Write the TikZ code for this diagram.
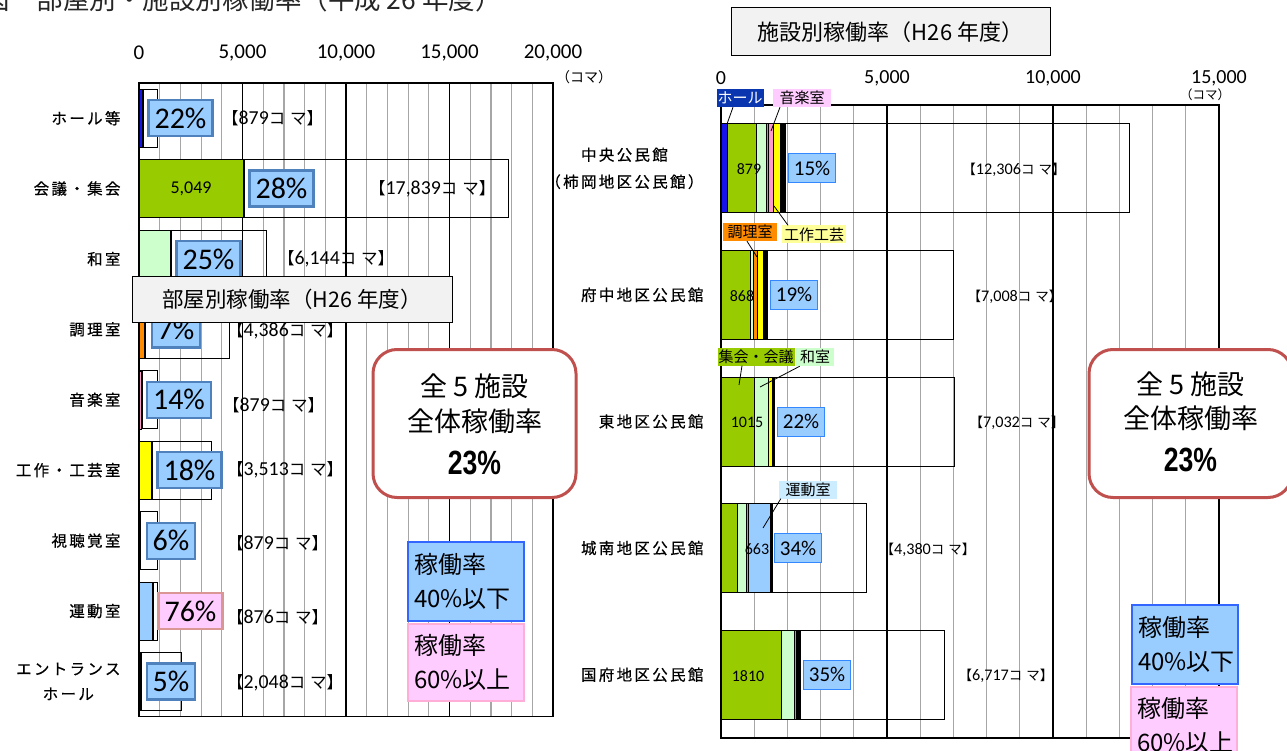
\documentclass[tikz,border=0pt]{standalone}
\usepackage{fontspec}
\setmainfont{Noto Sans CJK JP}
\newfontfamily\numfont{Carlito}
\newfontfamily\labfont[LetterSpace=15, FakeBold=0.5]{Noto Sans CJK JP}
\newfontfamily\boldnum{Liberation Sans}

\definecolor{hallblue}{RGB}{20,20,235}
\definecolor{halltag}{RGB}{10,55,175}
\definecolor{kaigi}{RGB}{153,204,0}
\definecolor{washitsu}{RGB}{204,255,204}
\definecolor{chouri}{RGB}{255,140,0}
\definecolor{ongaku}{RGB}{255,153,204}
\definecolor{ongakutag}{RGB}{255,204,255}
\definecolor{kousaku}{RGB}{255,255,0}
\definecolor{kousakutag}{RGB}{255,255,153}
\definecolor{undou}{RGB}{153,204,255}
\definecolor{undoutag}{RGB}{204,236,255}
\definecolor{pcfill}{RGB}{153,204,255}
\definecolor{pcedge}{RGB}{79,129,189}
\definecolor{pcedgeR}{RGB}{51,136,255}
\definecolor{pinkfill}{RGB}{255,204,255}
\definecolor{pinkedge}{RGB}{217,150,148}
\definecolor{titlegray}{RGB}{242,242,242}
\definecolor{roundred}{RGB}{192,80,77}
\definecolor{legedge}{RGB}{51,102,255}
\definecolor{legpinkedge}{RGB}{255,175,215}
\definecolor{gridgray}{RGB}{166,166,166}

\newcommand\koma[1]{【{\numfont\scalebox{1.2}{#1}}コ\hspace{0.3em}マ】}

\tikzset{
  gridline/.style={draw=gridgray, line width=1.2pt},
  major/.style={draw=black, line width=1.2pt},
  plotframe/.style={draw=black, line width=1.4pt},
  totalbox/.style={draw=black, line width=0.9pt},
  segbar/.style={draw=black, line width=0.6pt},
  tickL/.style={font={\numfont\fontsize{21}{21}\selectfont}},
  tickR/.style={font={\numfont\fontsize{20}{20}\selectfont}},
  catL/.style={anchor=east, align=center, font={\labfont\fontsize{15.5}{25}\selectfont}},
  facR/.style={anchor=east, align=center, font={\labfont\fontsize{15.5}{27}\selectfont}},
  pcbox/.style={draw=pcedge, fill=pcfill, line width=2.2pt, inner xsep=6pt, inner ysep=0pt,
    minimum height=36pt, font={\numfont\fontsize{30}{30}\selectfont}},
  pcpink/.style={pcbox, draw=pinkedge, fill=pinkfill},
  pcboxR/.style={draw=pcedgeR, fill=pcfill, line width=1pt, inner xsep=5pt, inner ysep=0pt,
    minimum height=29pt, font={\numfont\fontsize{21}{21}\selectfont}},
  komaL/.style={anchor=west, inner sep=0pt, font=\fontsize{16.5}{16.5}\selectfont},
  komaR/.style={inner sep=0pt, font=\fontsize{13.5}{13.5}\selectfont},
  numR/.style={inner sep=0pt, font={\numfont\fontsize{16}{16}\selectfont}},
  tag/.style={inner sep=1pt, minimum height=18pt, font=\fontsize{15}{15}\selectfont},
  leader/.style={draw=black, line width=0.8pt},
  titlebox/.style={draw=black, fill=titlegray, line width=1pt},
  roundbox/.style={draw=roundred, fill=white, line width=3pt, rounded corners=24pt,
    minimum width=203pt, minimum height=148pt},
  roundtxt/.style={inner sep=0pt, font=\fontsize{27}{27}\selectfont},
  roundpct/.style={inner sep=0pt, font={\boldnum\bfseries\fontsize{28}{28}\selectfont}},
  legB/.style={draw=legedge, fill=pcfill, line width=1.2pt, inner xsep=6pt, align=left,
    font=\fontsize{24}{34}\selectfont},
  legP/.style={legB, draw=legpinkedge, fill=pinkfill}
}

\begin{document}
\begin{tikzpicture}[x=1pt,y=-1pt]
\useasboundingbox (0,0) rectangle (1287,751);
\clip (0,0) rectangle (1287,751);

% caption, cut off at the top edge
\node[anchor=base west, font=\fontsize{26.5}{26.5}\selectfont, text=black!85] (cap) at (-20,9.5) {図　部屋別・施設別稼働率（平成 26 年度）};

%% ---- left chart: by room type (values in 100 koma) ----
\foreach \k in {1,...,19}
  \draw[gridline] ({139+20.7*\k},83) -- ({139+20.7*\k},716.6);
\foreach \k in {5,10,15}
  \draw[major] ({139+20.7*\k},83) -- ({139+20.7*\k},716.6);
\draw[plotframe] (139,83) rectangle (553,716.6);

\foreach \v/\t in {0/0,5/{5,000},10/{10,000},15/{15,000},20/{20,000}}
  \node[tickL] (tl\v) at ({139+20.7*\v},53) {\t};
\node[font=\fontsize{14}{14}\selectfont] (unitL) at (584,77) {（コマ）};

\foreach \col/\used/\tot/\px/\pst/\pct/\kx/\kdy/\kv [count=\i] in {
  hallblue/1.93/8.79/180.5/pcbox/22/222/0/879,
  kaigi/50.49/178.39/281.5/pcbox/28/369/0/{17,839},
  washitsu/15.36/61.44/208.5/pcbox/25/278/0/{6,144},
  chouri/3.07/43.86/176/pcbox/7/227/1/{4,386},
  ongaku/1.23/8.79/179/pcbox/14/223/5/879,
  kousaku/6.32/35.13/189.5/pcbox/18/227/0/{3,513},
  black/0.53/8.79/171/pcbox/6/227/3/879,
  undou/6.66/8.76/190.5/pcpink/76/227/6/876,
  black/1.02/20.48/171/pcbox/5/227/1/{2,048}}
{
  \pgfmathsetmacro\yc{83+70.4*(\i-0.5)}
  \draw[totalbox] (139,\yc-29) rectangle ({139+2.07*\tot},\yc+29);
  \draw[segbar, fill=\col] (139,\yc-29) rectangle ({139+2.07*\used},\yc+29);
  \draw[line width=2pt] ({139+2.07*\used},\yc-29) -- ++(0,58);
  \node[\pst] (pct\i) at (\px,\yc) {\pct\%};
  \node[komaL] (koma\i) at (\kx,\yc+\kdy) {\koma{\kv}};
}
\node[inner sep=0pt, font={\numfont\fontsize{18}{18}\selectfont}] (v2) at (191,189) {5,049};

\foreach \t [count=\i] in {ホール等,会議・集会,和室,調理室,音楽室,工作・工芸室,視聴覚室,運動室,{エントランス\\ホール}}
  \node[catL] (cat\i) at (124,{83+70.4*(\i-0.5)}) {\t};

\node[titlebox, minimum width=320pt, minimum height=45pt, font=\fontsize{21.5}{21.5}\selectfont] (titleL) at (292,299.5) {部屋別稼働率（H26 年度）};

\node[roundbox] (allL) at (474.5,423.5) {};
\node[roundtxt] (allL1) at (474.5,386) {全 5 施設};
\node[roundtxt] (allL2) at (474.5,421) {全体稼働率};
\node[roundpct] (allL3) at (474.5,463) {\scalebox{0.95}[1.2]{23\%}};

\node[legB, text width=104pt, minimum height=79pt] (legL1) at (466,581.5) {稼働率\\40\%以下};
\node[legP, text width=104pt, minimum height=77pt] (legL2) at (466,662.5) {稼働率\\60\%以上};

%% ---- right chart: by facility ----
\foreach \k in {1,...,14}
  \draw[gridline] ({721+33.2*\k},105) -- ({721+33.2*\k},738);
\foreach \k in {5,10}
  \draw[major] ({721+33.2*\k},105) -- ({721+33.2*\k},738);
\draw[plotframe] (721,105) rectangle (1219,738);

\foreach \v/\t in {0/0,5/{5,000},10/{10,000},15/{15,000}}
  \node[tickR] (tr\v) at ({721+33.2*\v},78) {\t};
\node[font=\fontsize{12.5}{12.5}\selectfont] (unitR) at (1205,95) {（コマ）};

\foreach \tot [count=\r] in {12306,7008,7032,4380,6717}
  \draw[totalbox] (721,{105+126.6*(\r-0.5)-44.5}) rectangle ({721+0.0332*\tot},{105+126.6*(\r-0.5)+44.5});

\foreach \r/\c/\a/\b in {
  1/hallblue/0/180, 1/kaigi/180/1059, 1/washitsu/1059/1359, 1/chouri/1359/1419,
  1/ongaku/1419/1569, 1/kousaku/1569/1779, 1/black/1779/1929,
  2/kaigi/0/868, 2/washitsu/868/958, 2/chouri/958/1078, 2/kousaku/1078/1288, 2/black/1288/1408,
  3/kaigi/0/1015, 3/washitsu/1015/1415, 3/kousaku/1415/1535, 3/black/1535/1615,
  4/kaigi/0/480, 4/washitsu/480/750, 4/chouri/750/810, 4/undou/810/1473, 4/black/1473/1533,
  5/kaigi/0/1810, 5/washitsu/1810/2210, 5/chouri/2210/2270, 5/black/2270/2390}
  \draw[segbar, fill=\c] ({721+0.0332*\a},{105+126.6*(\r-0.5)-44.5}) rectangle ({721+0.0332*\b},{105+126.6*(\r-0.5)+44.5});

\foreach \px/\pct/\nx/\nv [count=\r] in {812/15/749/879, 794/19/742/868, 801/22/747/1015, 798/34/757/663, 827/35/748/1810}
{
  \pgfmathsetmacro\yc{105+126.6*(\r-0.5)}
  \node[pcboxR] (pr\r) at (\px,\yc) {\pct\%};
  \node[numR] (nr\r) at (\nx,\yc+1) {\nv};
}
\foreach \kx/\kv [count=\r] in {1014/{12,306},1015/{7,008},1017/{7,032},928/{4,380},1006/{6,717}}
  \node[komaR] (kr\r) at (\kx,{105+126.6*(\r-0.5)+1.5}) {\koma{\kv}};

\foreach \t [count=\r] in {{中央公民館\\（柿岡地区公民館）},府中地区公民館,東地区公民館,城南地区公民館,国府地区公民館}
  \node[facR] (fac\r) at (707,{105+126.6*(\r-0.5)}) {\t};

% room tags with leader lines
\node[tag, fill=halltag, text=white, minimum width=46pt] (tHall) at (740,98) {ホール};
\node[tag, fill=ongakutag, minimum width=58pt] (tMusic) at (802,98) {音楽室};
\node[tag, fill=kousakutag, minimum width=64pt] (tKou) at (814,234.5) {工作工芸};
\node[tag, fill=chouri, minimum width=54pt] (tCook) at (750,232) {調理室};
\node[tag, fill=kaigi, minimum width=72pt] (tKai) at (756,356.5) {集会・会議};
\node[tag, fill=washitsu, minimum width=38pt] (tWa) at (815,357) {和室};
\node[tag, fill=undoutag, minimum width=58pt] (tUnd) at (808,489.5) {運動室};
\coordinate (cHall) at (727,124);
\coordinate (cMusic) at (771,131);
\coordinate (cKou) at (774,206);
\coordinate (cCook) at (757,257);
\coordinate (cKai) at (739,385);
\coordinate (cWa) at (760,387);
\coordinate (cUnd) at (763,528);
\draw[leader] ([xshift=-7pt]tHall.south) -- (cHall);
\draw[leader] ([xshift=-22pt]tMusic.south) -- (cMusic);
\draw[leader] ([xshift=-26pt]tKou.north) -- (cKou);
\draw[leader] ([xshift=-3pt]tCook.south) -- (cCook);
\draw[leader] ([xshift=-14pt]tKai.south) -- (cKai);
\draw[leader] ([xshift=4pt]tWa.south west) -- (cWa);
\draw[leader] ([xshift=2pt]tUnd.south west) -- (cUnd);

\node[titlebox, minimum width=319pt, minimum height=48pt, font=\fontsize{22}{22}\selectfont] (titleR) at (890.5,32) {施設別稼働率（H26 年度）};

\node[roundbox] (allR) at (1190.5,423.5) {};
\node[roundtxt] (allR1) at (1190.5,384) {全 5 施設};
\node[roundtxt] (allR2) at (1190.5,418) {全体稼働率};
\node[roundpct] (allR3) at (1190.5,460) {\scalebox{0.95}[1.2]{23\%}};

\node[legB, text width=94pt, minimum height=79pt] (legR1) at (1185,644.5) {稼働率\\40\%以下};
\node[legP, text width=94pt, minimum height=76pt] (legR2) at (1184,725) {稼働率\\60\%以上};

\end{tikzpicture}
\end{document}
